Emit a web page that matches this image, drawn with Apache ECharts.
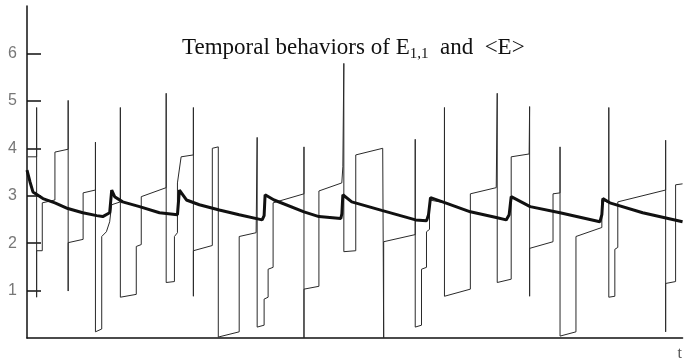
<!DOCTYPE html>
<html>
<head>
<meta charset="utf-8">
<script src="https://cdn.jsdelivr.net/npm/echarts@6/dist/echarts.min.js"></script>
<style>
  html, body { margin: 0; padding: 0; background: #fff; }
  #chart { width: 685px; height: 362px; }
</style>
</head>
<body>
<div id="chart"></div>
<script>
// E_{1,1}: time and value of each corner of the thin trace
var e11T = [0.1, 1.47, 1.47, 1.47, 1.47, 2.33, 2.33, 4.26, 4.26, 6.28, 6.28, 6.28, 6.28, 8.56, 8.56, 10.44, 10.44, 10.44,
  11.4, 11.4, 12.11, 12.61, 12.92, 14.24, 14.24, 14.24, 16.67, 16.67, 17.43, 17.43, 21.23, 21.23, 21.23, 22.49, 22.49,
  22.95, 22.95, 23.51, 25.38, 25.38, 25.38, 25.38, 28.27, 28.27, 29.18, 29.18, 32.37, 32.37, 34.95, 35.11, 35.11, 36.17,
  36.17, 36.78, 36.78, 37.54, 37.54, 42.25, 42.25, 42.25, 42.25, 44.53, 44.53, 48.02, 48.18, 48.33, 48.33, 50.15, 50.15,
  54.26, 54.41, 54.41, 59.22, 59.22, 59.22, 60.18, 60.18, 60.94, 60.94, 61.4, 61.4, 63.68, 63.68, 63.68, 67.63, 67.63,
  71.58, 71.73, 71.73, 73.86, 73.86, 76.6, 76.67, 76.67, 76.67, 80.24, 80.24, 81.31, 81.31, 81.31, 83.74, 83.74, 87.69,
  87.69, 88.75, 88.75, 88.75, 89.67, 89.67, 90.12, 90.12, 97.42, 97.42, 97.42, 97.42, 98.94, 98.94, 100];
var e11V = [3.82, 3.82, 4.86, 0.86, 1.84, 1.84, 2.85, 2.91, 3.92, 3.98, 5.01, 0.99, 2.01, 2.08, 3.06, 3.12, 4.13, 0.13,
  0.19, 2.14, 2.24, 2.45, 2.81, 2.87, 4.86, 0.86, 0.92, 1.93, 1.97, 2.98, 3.17, 5.16, 1.17, 1.19, 2.14,
  2.22, 3.27, 3.82, 3.86, 4.86, 0.88, 1.84, 1.95, 4.0, 4.03, 0.02, 0.13, 2.14, 2.22, 4.23, 0.23, 0.27,
  0.82, 0.86, 1.45, 1.49, 2.85, 3.04, 4.03, 0.0, 1.03, 1.09, 3.1, 3.27, 3.61, 5.79, 1.82, 1.84, 3.86,
  4.0, 0.0, 2.03, 2.18, 4.19, 0.23, 0.27, 1.45, 1.49, 2.24, 2.29, 2.91, 2.85, 4.86, 0.88, 1.03, 3.04,
  3.17, 5.16, 1.17, 1.24, 3.82, 3.88, 4.88, 0.88, 1.89, 2.03, 3.04, 3.06, 4.03, 0.04, 0.13, 2.14, 2.33,
  2.91, 2.85, 4.86, 0.86, 0.88, 1.87, 1.91, 2.87, 3.12, 4.17, 0.13, 1.15, 1.19, 3.23, 3.25];

// <E>: thick average curve
var avgT = [0, 0.46, 0.91, 2.43, 4.26, 6.23, 8.51, 10.64, 11.55, 12.61, 12.92, 13.37, 14.59, 17.17, 20.21, 22.95, 23.1,
  23.25, 24.32, 26.29, 29.33, 32.37, 35.87, 36.17, 36.32, 37.69, 42.25, 44.53, 47.87, 48.03, 48.18, 49.54, 54.1, 59.27,
  60.94, 61.25, 61.55, 63.83, 67.63, 71.58, 73.1, 73.55, 73.86, 76.75, 81.31, 87.39, 87.69, 87.84, 88.91, 93.92, 100];
var avgV = [3.54, 3.29, 3.08, 2.94, 2.85, 2.73, 2.64, 2.58, 2.56, 2.64, 3.12, 2.98, 2.87, 2.77, 2.64, 2.6, 2.64,
  3.12, 2.91, 2.81, 2.7, 2.6, 2.49, 2.58, 3.02, 2.91, 2.66, 2.56, 2.52, 2.62, 3.02, 2.87, 2.69, 2.49,
  2.47, 2.6, 2.96, 2.85, 2.66, 2.54, 2.49, 2.6, 2.98, 2.77, 2.64, 2.45, 2.6, 2.94, 2.85, 2.64, 2.45];

var yTicks = [1, 2, 3, 4, 5, 6];

function zip(a, b) {
  var out = [];
  for (var i = 0; i < a.length; i++) out.push([a[i], b[i]]);
  return out;
}

var myChart = echarts.init(document.getElementById('chart'));
var option = {
  backgroundColor: '#fff',
  animation: false,
  title: {
    text: '{a|Temporal behaviors of E}{s|1,1}{a|  and  <E>}',
    left: 177,
    top: 28,
    textStyle: {
      fontWeight: 'normal',
      rich: {
        a: { fontFamily: 'Liberation Serif', fontSize: 23, fontWeight: 'normal', color: '#111' },
        s: { fontFamily: 'Liberation Serif', fontSize: 15, fontWeight: 'normal', color: '#111', verticalAlign: 'bottom', padding: [14, 0, 0, 0] }
      }
    }
  },
  grid: { left: 27, right: 0, top: 6, bottom: 23 },
  xAxis: {
    type: 'value',
    min: 0,
    max: 100,
    name: 't',
    nameLocation: 'end',
    nameGap: -5,
    nameTextStyle: { fontFamily: 'Liberation Serif', fontSize: 16, color: '#555', verticalAlign: 'top', padding: [8, 0, 0, 0] },
    axisLine: { lineStyle: { color: '#111', width: 1.5 } },
    axisTick: { show: false },
    axisLabel: { show: false },
    splitLine: { show: false }
  },
  yAxis: {
    type: 'value',
    min: 0,
    max: 7,
    interval: 1,
    axisLine: { show: true, lineStyle: { color: '#111', width: 1.5 } },
    axisTick: { show: true, inside: true, length: 14, customValues: yTicks, lineStyle: { color: '#111', width: 1.5 } },
    axisLabel: { customValues: yTicks, margin: 10, fontFamily: 'Liberation Sans', fontSize: 16, color: '#777' },
    splitLine: { show: false }
  },
  series: [
    {
      name: 'E11',
      type: 'line',
      data: zip(e11T, e11V),
      showSymbol: false,
      lineStyle: { color: '#2a2a2a', width: 1 },
      z: 2
    },
    {
      name: 'avgE',
      type: 'line',
      data: zip(avgT, avgV),
      showSymbol: false,
      lineStyle: { color: '#111', width: 3 },
      z: 3
    }
  ]
};
myChart.setOption(option);
</script>
</body>
</html>
